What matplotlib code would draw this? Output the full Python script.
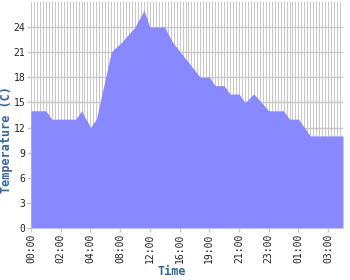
import numpy as np
import matplotlib
matplotlib.use('Agg')
import matplotlib.pyplot as plt

# temperature readings, one per sample
temps = [14, 14, 14, 14, 14, 14, 13.5, 13, 13, 13,
         13, 13, 13, 13, 13, 13, 13.5, 14, 13.3, 12.7,
         12, 12.5, 13, 14.6, 16.2, 17.8, 19.4, 21, 21.4, 21.7,
         22, 22.4, 22.8, 23.2, 23.6, 24, 24.7, 25.3, 26, 25,
         24, 24, 24, 24, 24, 24, 23.3, 22.6, 22, 21.6,
         21.1, 20.7, 20.2, 19.8, 19.3, 18.9, 18.4, 18, 18, 18,
         18, 17.5, 17, 17, 17, 17, 16.5, 16, 16, 16,
         16, 15.5, 15, 15.3, 15.7, 16, 15.6, 15.2, 14.8, 14.4,
         14, 14, 14, 14, 14, 14, 13.5, 13, 13, 13,
         13, 12.5, 12, 11.5, 11, 11, 11, 11, 11, 11,
         11, 11, 11, 11, 11, 11]
tick_labels = ['00:00', '02:00', '04:00', '08:00', '12:00', '16:00',
               '19:00', '21:00', '23:00', '01:00', '03:00']
y_ticks = [0, 3, 6, 9, 12, 15, 18, 21, 24]

x = np.arange(len(temps))

fig = plt.figure(figsize=(3.5, 2.8), dpi=100)
ax = fig.add_axes([31 / 350, 1 - 228 / 280, 312 / 350, 226 / 280])

ax.fill_between(x, temps, 0, color='#8888ff', linewidth=0, zorder=2)

ax.set_xlim(0, len(temps) - 1)
ax.set_ylim(0, 27)

# grid: a vertical line for every sample, horizontal every 3 degrees
for xi in x:
    ax.axvline(xi, color='#c8c8c8', linewidth=0.75, zorder=1)
for yt in y_ticks[1:]:
    ax.axhline(yt, color='#c8c8c8', linewidth=1, zorder=1)

ax.set_xticks(x[::10])
ax.set_xticklabels(tick_labels, rotation=90, family='DejaVu Sans Mono',
                   fontsize=7, color='#222222')
ax.set_yticks(y_ticks)
ax.set_yticklabels([str(v) for v in y_ticks], family='DejaVu Sans Mono',
                   fontsize=7, color='#222222')
ax.tick_params(length=3, width=1, color='#c8c8c8', pad=1)

for s in ax.spines.values():
    s.set_visible(False)

ax.set_ylabel('Temperature (C)', family='DejaVu Sans Mono', fontweight='bold',
              fontsize=8.5, color='#336699')
ax.yaxis.set_label_coords(-0.059, 0.39)
ax.set_xlabel('Time', family='DejaVu Sans Mono', fontweight='bold',
              fontsize=8.5, color='#336699')
ax.xaxis.set_label_coords(0.452, -0.165)

fig.savefig('out.png', dpi=100)
